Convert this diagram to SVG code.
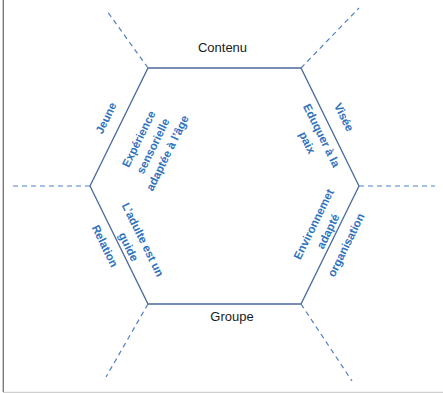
<svg xmlns="http://www.w3.org/2000/svg" width="443" height="393" viewBox="0 0 443 393">
<style>
.hex{fill:none;stroke:#4a6a9e;stroke-width:1.3}
.dash{fill:none;stroke:#4f7fc4;stroke-width:1.2;stroke-dasharray:5 4}
.blk{font-family:"Liberation Sans",Arial,sans-serif;font-size:13px;fill:#1a1a1a;text-anchor:middle}
.lbl{font-family:"Liberation Sans",Arial,sans-serif;font-size:11.5px;font-weight:bold;fill:#2f73bf;text-anchor:middle}
</style>
<rect x="0" y="0" width="443" height="393" fill="#ffffff"/>
<line x1="3.3" y1="0" x2="3.3" y2="392" stroke="#7a7a7a" stroke-width="1.4"/>
<line x1="3" y1="392.3" x2="443" y2="392.3" stroke="#c4c4c4" stroke-width="1"/>
<g id="hexagon">
<polygon class="hex" points="148,68 301,68 359,186 301,304 148,304 90,186"/>
</g>
<g id="connectors">
<line class="dash" x1="148" y1="68" x2="107" y2="11"/>
<line class="dash" x1="301" y1="68" x2="359" y2="8"/>
<line class="dash" x1="90" y1="186" x2="13" y2="186"/>
<line class="dash" x1="359" y1="186" x2="435" y2="186"/>
<line class="dash" x1="148" y1="304" x2="106" y2="377"/>
<line class="dash" x1="301" y1="304" x2="352" y2="381"/>
</g>
<g id="contenu"><text class="blk" x="222.5" y="52">Contenu</text></g>
<g id="groupe"><text class="blk" x="232" y="321">Groupe</text></g>
<g id="jeune"><text class="lbl" transform="translate(106,118) rotate(-63.8)" y="4">Jeune</text></g>
<g id="experience"><text class="lbl" transform="translate(153,146) rotate(-63.8)"><tspan x="0" y="-12">Expérience</tspan><tspan x="0" y="4">sensorielle</tspan><tspan x="0" y="20">adaptée à l’âge</tspan></text></g>
<g id="visee"><text class="lbl" transform="translate(344,117) rotate(63.8)" y="4">Visée</text></g>
<g id="eduquer"><text class="lbl" transform="translate(314.5,139) rotate(63.8)"><tspan x="0" y="-4">Eduquer à la</tspan><tspan x="0" y="12">paix</tspan></text></g>
<g id="environnement"><text class="lbl" transform="translate(320.75,227.75) rotate(-63.8)"><tspan x="0" y="-4">Environnemet</tspan><tspan x="0" y="12">adapté</tspan></text></g>
<g id="organisation"><text class="lbl" transform="translate(346,245) rotate(-63.8)" y="4">organisation</text></g>
<g id="adulte"><text class="lbl" transform="translate(135.75,243.25) rotate(63.8)"><tspan x="0" y="-4">L’adulte est un</tspan><tspan x="0" y="12">guide</tspan></text></g>
<g id="relation"><text class="lbl" transform="translate(105,246) rotate(63.8)" y="4">Relation</text></g>
</svg>
